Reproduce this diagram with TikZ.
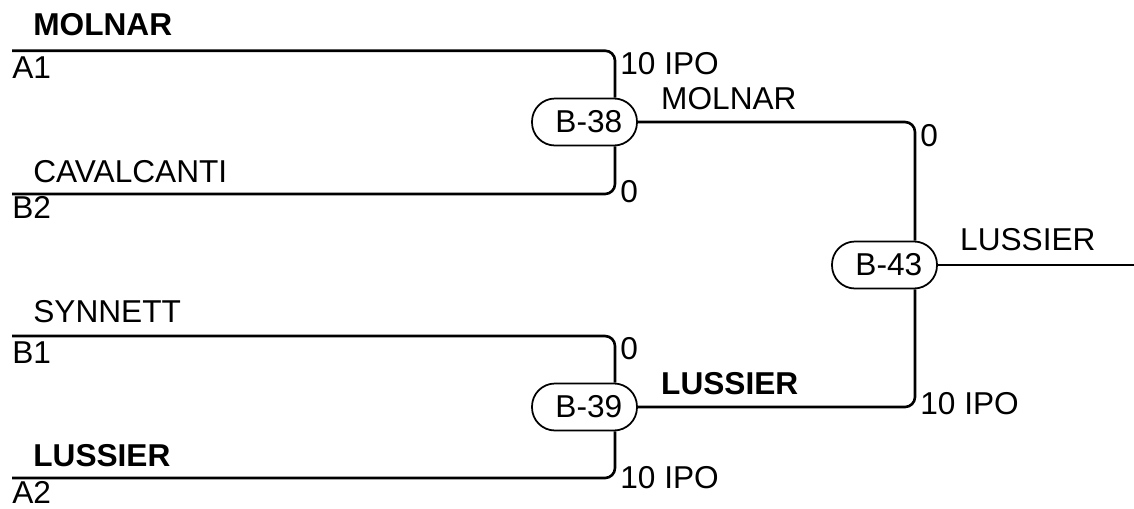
\documentclass[tikz,border=0pt]{standalone}
\usepackage{fontspec}
\setmainfont{Liberation Sans}
\usetikzlibrary{positioning,calc}
\newcommand{\bracketsize}{\fontsize{18}{21}\selectfont}

\begin{document}
\begin{tikzpicture}[x=0.02cm, y=-0.02cm,
    every node/.style={font=\bracketsize},
    game/.style={draw, line width=1pt, rounded corners=0.46cm, minimum width=2.1cm, minimum height=0.94cm, inner sep=0pt},
    wire/.style={line width=1.5pt, rounded corners=0.2cm},
    team/.style={anchor=base west, inner sep=0pt},
    winner/.style={team, font=\bracketsize\bfseries},
    score/.style={inner sep=0pt}]
      \useasboundingbox (0,0) rectangle (1134,508);

      \coordinate (A1) at (12,50.7);
      \coordinate (B2) at (12,194);
      \coordinate (B1) at (12,336);
      \coordinate (A2) at (12,478);
      \coordinate (k1) at (615,0);
      \coordinate (k2) at (915,0);
      \coordinate (out) at (1134,265);

      \node[game] (B38) at (584.5,122) {\hspace{5pt}B-38};
      \node[game] (B39) at (584.5,407) {\hspace{5pt}B-39};
      \node[game] (B43) at (884.5,265) {\hspace{5pt}B-43};

      \draw[wire] (A1) -| (B38.north -| k1);
      \draw[wire] (B2) -| (B38.south -| k1);
      \draw[wire] (B1) -| (B39.north -| k1);
      \draw[wire] (A2) -| (B39.south -| k1);
      \draw[wire] (B38) -| (B43.north -| k2);
      \draw[wire] (B39) -| (B43.south -| k2);
      \draw[wire] (B43) -- (out);

      % teams and slots
      \node[winner] (tA1) at ($(A1)+(21,-15.7)$) {MOLNAR};
      \node[team] (sA1) at ($(A1)+(0,27.3)$) {A1};
      \node[team] (tB2) at ($(B2)+(21,-12)$) {CAVALCANTI};
      \node[team] (sB2) at ($(B2)+(0,24)$) {B2};
      \node[team] (tB1) at ($(B1)+(21,-14)$) {SYNNETT};
      \node[team] (sB1) at ($(B1)+(0,27)$) {B1};
      \node[winner] (tA2) at ($(A2)+(21,-12)$) {LUSSIER};
      \node[team] (sA2) at ($(A2)+(0,25)$) {A2};

      \node[team] (w38) at ($(B38.east)+(23,-13)$) {MOLNAR};
      \node[winner] (w39) at ($(B39.east)+(23,-13)$) {LUSSIER};
      \node[team] (w43) at ($(B43.east)+(22,-14.3)$) {LUSSIER};

      % scores
      \node[score, anchor=north west] (pA1) at ($(A1 -| k1)+(5,1.5)$) {10 IPO};
      \node[score, anchor=west] (pB2) at ($(B2 -| k1)+(5,-2)$) {0};
      \node[score, anchor=north west] (pB1) at ($(B1 -| k1)+(5,1.5)$) {0};
      \node[score, anchor=west] (pA2) at ($(A2 -| k1)+(5,-0.5)$) {10 IPO};
      \node[score, anchor=north west] (p38) at ($(B38 -| k2)+(5,2)$) {0};
      \node[score, anchor=west] (p39) at ($(B39 -| k2)+(5,-3)$) {10 IPO};
\end{tikzpicture}
\end{document}
